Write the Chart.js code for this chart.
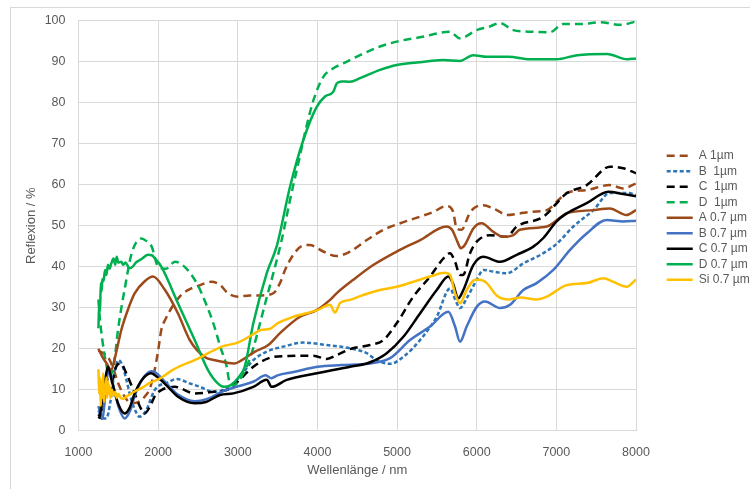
<!DOCTYPE html>
<html><head><meta charset="utf-8">
<script src="https://cdn.jsdelivr.net/npm/chart.js@4"></script>
<style>html,body{margin:0;padding:0;background:#fff;}#wrap{width:750px;height:489px;position:relative;}</style>
</head><body><div id="wrap"><canvas id="c" width="750" height="489"></canvas></div>
<script>
// ---- data ----
const seriesNames = ["A 1\u00b5m","B  1\u00b5m","C  1\u00b5m","D  1\u00b5m","A 0.7 \u00b5m","B 0.7 \u00b5m","C 0.7 \u00b5m","D 0.7 \u00b5m","Si 0.7 \u00b5m"];
const xTicks = [1000,2000,3000,4000,5000,6000,7000,8000];
const yTicks = [0,10,20,30,40,50,60,70,80,90,100];

const A1_x = [1250,1300,1370,1430,1500,1580,1660,1750,1830,1900,1956,2000,2040,2100,2207,2300,2417,2500,2668,2780,2877,3000,3150,3300,3450,3530,3600,3700,3800,3900,4074,4240,4410,4620,4830,5040,5290,5460,5620,5700,5750,5810,5900,5960,6080,6250,6380,6540,6700,6880,7050,7130,7380,7670,7840,8000];
const A1_y = [19.5,19,18,15.5,11.5,8.3,6.7,7,8.3,10.5,14.8,19.5,24.6,27.5,31.1,33.3,34.7,35.3,36.3,35.5,33.5,32.7,33,33,33.6,36,39.5,43,45,45.3,43.7,42.6,43.7,46.5,49,50.6,52.2,53.4,54.8,53.6,49.3,49,52.6,54.2,55,53.8,52.6,53,53.4,53.8,56.7,58,58.7,59.9,59.1,60.3];

const B1_x = [1250,1300,1350,1400,1450,1500,1550,1600,1650,1700,1768,1850,1956,2124,2233,2400,2526,2693,2861,3028,3195,3363,3572,3823,4116,4410,4619,4744,4912,5079,5288,5498,5665,5730,5790,5874,6000,6083,6208,6377,6585,6837,7000,7214,7465,7674,7883,8000];
const B1_y = [6,3,3,7,14,17.2,16,12.5,8.5,5.5,3.4,5,9.9,11.8,12.6,11.5,10.7,9.5,10.3,13.2,17.2,19.3,20.5,21.5,20.9,20.1,18.9,17.2,16.3,18,22.1,27.8,34.7,32,29.9,32.3,36.8,39.2,38.8,38.4,40.8,43.3,45.5,49.8,53.8,58,58,57.5];

const C1_x = [1250,1290,1330,1370,1420,1470,1530,1600,1705,1780,1831,1900,1960,2040,2207,2459,2700,2877,3000,3195,3446,3600,3782,3950,4116,4250,4410,4660,4828,4995,5204,5414,5581,5665,5728,5790,5830,5916,6000,6167,6377,6502,6837,7130,7381,7674,7841,8000];
const C1_y = [4,3,8,13,12,15.5,16.4,14,9.1,5.5,4.2,6,8.5,9.9,10.7,9.1,9.5,10,12,15.6,18,18.2,18.3,18.3,17.5,18.5,19.9,20.9,22.1,26.2,32.7,37.6,42,43.3,41.2,38,38,43.3,46.1,47.7,47.3,49.8,52.2,57.9,59.9,64.4,64,62.8];

const D1_x = [1250,1266,1300,1350,1391,1450,1496,1584,1668,1789,1850,1919,2000,2100,2210,2330,2484,2600,2693,2780,2861,2900,2950,3000,3111,3200,3279,3350,3446,3551,3656,3780,3860,3950,4074,4200,4325,4535,4786,4995,5300,5665,5790,6000,6150,6293,6460,6700,6920,7085,7300,7547,7800,8000];
const D1_y = [32,27.8,22,16,13.2,17,24.6,35,43.3,46.9,46.3,44.9,40,39.5,41.2,40,36,31,26.2,20.5,15.6,11.5,11,11.8,15.6,20.5,26.2,31.5,38.4,46.5,56.3,67,74,80.6,86.3,88.4,89.6,91.6,93.7,94.9,96,97.3,95.7,97.7,98.5,99.4,97.7,97.3,97.2,99.2,99.2,99.6,99,99.8];

const A07_x = [1250,1300,1350,1412,1460,1538,1620,1705,1835,1935,2086,2249,2400,2584,2714,2961,3050,3216,3383,3530,3780,3990,4158,4240,4450,4700,4995,5290,5620,5690,5760,5800,5850,5960,6060,6210,6330,6460,6540,6880,7130,7460,7670,7880,8000];
const A07_y = [20,18,16.5,14.8,18,24.6,29.5,33.5,36.5,37.6,34.3,28.6,22,18,17.2,16.4,17.2,19.3,20.9,23.8,27.8,29.4,31.9,33.5,36.8,40.4,43.7,46.5,49.8,49,46,44.5,45.3,49.4,50.6,48.5,47.3,47.7,49,49.8,53,53.8,54.2,52.6,53.8];

const B07_x = [1250,1300,1350,1380,1450,1500,1580,1650,1705,1800,1914,1960,2082,2249,2459,2650,2800,3000,3200,3350,3420,3500,3700,4000,4300,4660,4912,5163,5414,5644,5728,5790,5874,6000,6104,6292,6418,6585,6753,6962,7172,7381,7632,7841,8000];
const B07_y = [5,3,12,14.5,10,6,3,5,8.5,12.5,14.5,14.3,12,8.8,7.2,8,9.5,10.8,12,13.5,12.8,13.5,14.3,15.6,16,16.4,17.7,22.1,25.4,29,25.4,21.7,25.4,30.2,31.5,29.9,30.7,34.3,36,39.2,44.1,48.1,51.4,51,51.2];

const C07_x = [1250,1266,1300,1340,1370,1420,1496,1580,1640,1705,1800,1914,1960,2082,2249,2459,2600,2777,2944,3195,3363,3426,3614,3991,4410,4619,4700,4870,5079,5288,5498,5644,5700,5769,5832,5957,6083,6292,6502,6711,6837,7000,7130,7381,7653,7841,8000];
const C07_y = [3,3.4,8,13,15.6,12,6.7,4.2,5.5,9.1,12.5,14,13.5,11.5,8.3,6.7,7,8.7,9.1,10.7,12.4,10.7,12.4,14,15.6,16.4,17,18.9,22.9,28.6,34.3,37.6,36,32.3,34.3,40.4,42.4,41.2,42.9,44.9,47,51,53,55.5,58.3,57.7,57.2];

const D07_x = [1250,1260,1270,1280,1290,1300,1315,1333,1350,1370,1390,1412,1440,1460,1480,1500,1538,1560,1590,1642,1680,1720,1760,1800,1873,1920,1960,2040,2249,2459,2626,2752,2830,2900,3028,3087,3195,3363,3489,3656,3823,3991,4095,4200,4242,4300,4410,4535,4786,4995,5250,5577,5790,5955,6127,6400,6667,7000,7260,7637,7890,8000];
const D07_y = [25,31,29,36,34,37,36.5,39.2,38,40.5,39.5,40.8,42,40.5,42.4,41,41.2,40.5,41,39.6,40,41,41.5,42,42.9,42.8,42,40,31.1,22.1,14.8,11.5,10.7,11,13.5,15.6,26.2,38.4,45,59.5,70.9,79,81.5,82.7,84.7,85.2,85.1,86,88,89.2,89.8,90.4,90.2,91.6,91.2,91.2,90.6,90.6,91.6,91.9,90.6,90.8];

const Si_x = [1250,1260,1270,1280,1290,1300,1310,1320,1330,1340,1350,1360,1370,1380,1390,1400,1420,1440,1460,1480,1500,1530,1560,1600,1700,1800,1900,2000,2200,2500,2800,3000,3150,3300,3400,3500,3700,4000,4158,4221,4283,4410,4576,4786,4995,5414,5602,5665,5728,5790,5874,5979,6041,6125,6250,6400,6550,6750,6880,7130,7381,7590,7716,7883,8000];
const Si_y = [15,9,13,6,12,8,14,7,11,9,13,8,12,9,11,8,10,8.5,9.5,8,9,8,7.8,8.3,9.5,10.5,11.7,12.5,15,17.6,20.5,21.5,23,24.6,24.8,26.2,27.8,29.4,30.7,28.8,31.1,31.9,33.1,34.3,35.1,37.6,38.5,38,33.5,31.1,34.3,36.8,36.8,36,33,32,32.5,32,32.7,35.5,36,37.2,36.3,35.1,36.9];

// ---- styles ----
const BROWN = '#9C4A1A', BLUE_D = '#2E75B6', BLUE = '#4472C4', BLACK = '#000000', GREEN = '#00B050', GOLD = '#FFC000';
const DASH = [8,5], SHORT = [4,2.5];

function pts(xs, ys){ return xs.map((x,i)=>({x:x, y:ys[i]})); }
function ds(label, xs, ys, color, dash){
  return {label, data: pts(xs, ys), borderColor: color, backgroundColor: color, borderWidth: 2.5,
    borderDash: dash || [], pointRadius: 0, fill: false, cubicInterpolationMode: 'monotone', borderCapStyle:'butt'};
}
// reversed so that later series paint on top; legend reversed back
const datasets = [
  ds(seriesNames[8], Si_x, Si_y, GOLD),
  ds(seriesNames[7], D07_x, D07_y, GREEN),
  ds(seriesNames[6], C07_x, C07_y, BLACK),
  ds(seriesNames[5], B07_x, B07_y, BLUE),
  ds(seriesNames[4], A07_x, A07_y, BROWN),
  ds(seriesNames[3], D1_x, D1_y, GREEN, DASH),
  ds(seriesNames[2], C1_x, C1_y, BLACK, DASH),
  ds(seriesNames[1], B1_x, B1_y, BLUE_D, SHORT),
  ds(seriesNames[0], A1_x, A1_y, BROWN, DASH)
];

const GRAY_TXT = '#595959', GRID = '#d9d9d9';
Chart.defaults.font.family = "'Liberation Sans', Arial, sans-serif";
Chart.defaults.color = GRAY_TXT;

const frame = {
  id: 'frame',
  beforeDraw(chart){
    const ctx = chart.ctx; ctx.save();
    ctx.strokeStyle = GRID; ctx.lineWidth = 1;
    ctx.strokeRect(10.5, 7.5, 800, 600);
    ctx.restore();
  }
};
const legendPos = {
  id: 'legendPos',
  beforeLayout(chart){
    const lg = chart.legend;
    if (lg && !lg._patched){
      const orig = lg.fit;
      lg.fit = function(){ orig.call(this); this.width = 114; };
      lg._patched = true;
    }
  },
  afterLayout(chart){
    const lg = chart.legend; if (!lg) return;
    const w = lg.width;
    lg.left = 663.2; lg.right = lg.left + w; lg.top = 146.2; lg.bottom = 489;
  }
};

new Chart(document.getElementById('c'), {
  type: 'line',
  data: { datasets },
  plugins: [frame, legendPos],
  options: {
    responsive: false, animation: false, devicePixelRatio: 1,
    layout: { padding: { left: 0, top: 20.7, right: 0, bottom: 0 } },
    plugins: {
      tooltip: { enabled: false },
      legend: {
        position: 'right', align: 'start', reverse: true,
        labels: { usePointStyle: true, pointStyle: 'line', pointStyleWidth: 26, boxHeight: 12,
          padding: 3.5, color: GRAY_TXT, font: { size: 12 },
          generateLabels: (chart) => {
            const items = Chart.defaults.plugins.legend.labels.generateLabels(chart);
            items.forEach(it => {
              const d = chart.data.datasets[it.datasetIndex];
              it.lineDash = d.borderDash; it.strokeStyle = d.borderColor; it.fillStyle = d.borderColor;
              it.lineWidth = d.borderWidth; it.pointStyle = 'line'; it.lineCap = 'butt';
            });
            return items;
          }
        }
      }
    },
    scales: {
      x: {
        type: 'linear', min: 1000, max: 8000,
        afterBuildTicks: s => { s.ticks = xTicks.map(v => ({value: v})); },
        afterFit: s => { s.height = 58.3; },
        grid: { color: GRID, drawTicks: false, lineWidth: 1 },
        border: { color: GRID },
        ticks: { autoSkip: false, maxRotation: 0, padding: 14, color: GRAY_TXT, font: { size: 12.5 }, callback: v => String(v) },
        title: { display: true, text: 'Wellenl\u00e4nge / nm', color: GRAY_TXT, font: { size: 13 }, padding: { top: 0, bottom: 11 } }
      },
      y: {
        min: 0, max: 100,
        afterBuildTicks: s => { s.ticks = yTicks.map(v => ({value: v})); },
        afterFit: s => { s.width = 78.5; },
        grid: { color: GRID, drawTicks: false, lineWidth: 1 },
        border: { color: GRID },
        ticks: { padding: 13, color: GRAY_TXT, font: { size: 12.5 }, callback: v => String(v) },
        title: { display: true, text: 'Reflexion / %', color: GRAY_TXT, font: { size: 13 }, padding: { top: 24, bottom: 0 } }
      }
    }
  }
});
</script></body></html>
